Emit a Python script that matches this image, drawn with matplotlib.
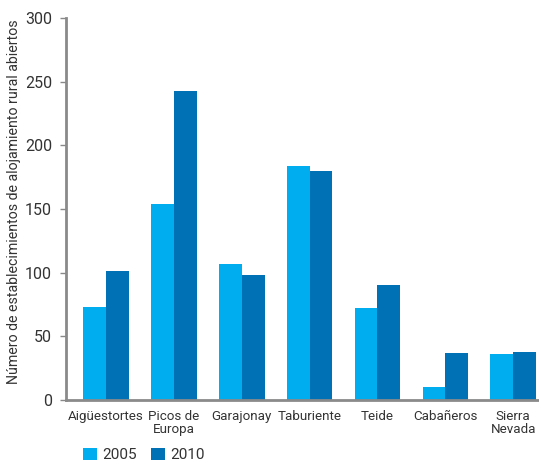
import matplotlib
matplotlib.use("Agg")
import matplotlib.pyplot as plt
import numpy as np

categories = ["Aigüestortes", "Picos de\nEuropa", "Garajonay", "Taburiente", "Teide", "Cabañeros", "Sierra\nNevada"]
series_names = ["2005", "2010"]
values_2005 = [73, 154, 107, 184, 72, 10, 36]
values_2010 = [101, 243, 98, 180, 90, 37, 38]
yticks = [0, 50, 100, 150, 200, 250, 300]
colors = ["#00ADEF", "#0071B5"]

plt.rcParams['font.family'] = ['Roboto', 'DejaVu Sans']

fig = plt.figure(figsize=(5.39, 4.61), dpi=100)
ax = fig.add_axes([0.1225, 0.1323, 0.8775, 0.8287])

x = np.arange(len(categories))
w = 0.335
ax.bar(x - w/2, values_2005, width=w, color=colors[0], label=series_names[0])
ax.bar(x + w/2, values_2010, width=w, color=colors[1], label=series_names[1])

ax.set_xlim(-0.59, 6.38)
ax.set_ylim(0, 300)
ax.set_yticks(yticks)
ax.set_xticks(x)
ax.set_xticklabels(categories, fontsize=9.6, color="#333333", linespacing=1.05, va="top")
ax.tick_params(axis='y', labelsize=11.5, colors="#333333", length=4, width=1, direction='out', pad=6)
ax.tick_params(axis='y', color="#888888")
ax.tick_params(axis='x', length=0, pad=7)
for s in ["top", "right"]:
    ax.spines[s].set_visible(False)
for s in ["left", "bottom"]:
    ax.spines[s].set_color("#8a8a8a")
    ax.spines[s].set_linewidth(2)

ax.set_ylabel("Número de establecimientos de alojamiento rural abiertos", fontsize=10.2, color="#333333", labelpad=8)
ax.yaxis.set_label_coords(-0.095, 0.52)

leg = fig.legend(loc="center left", bbox_to_anchor=(83/539, 1 - 455/461), ncol=2, frameon=False,
                 fontsize=11, handlelength=0.9, handleheight=0.9, handletextpad=0.35,
                 columnspacing=0.95, borderaxespad=0, borderpad=0)
for t in leg.get_texts():
    t.set_color("#333333")

fig.savefig("out.png", dpi=100)
